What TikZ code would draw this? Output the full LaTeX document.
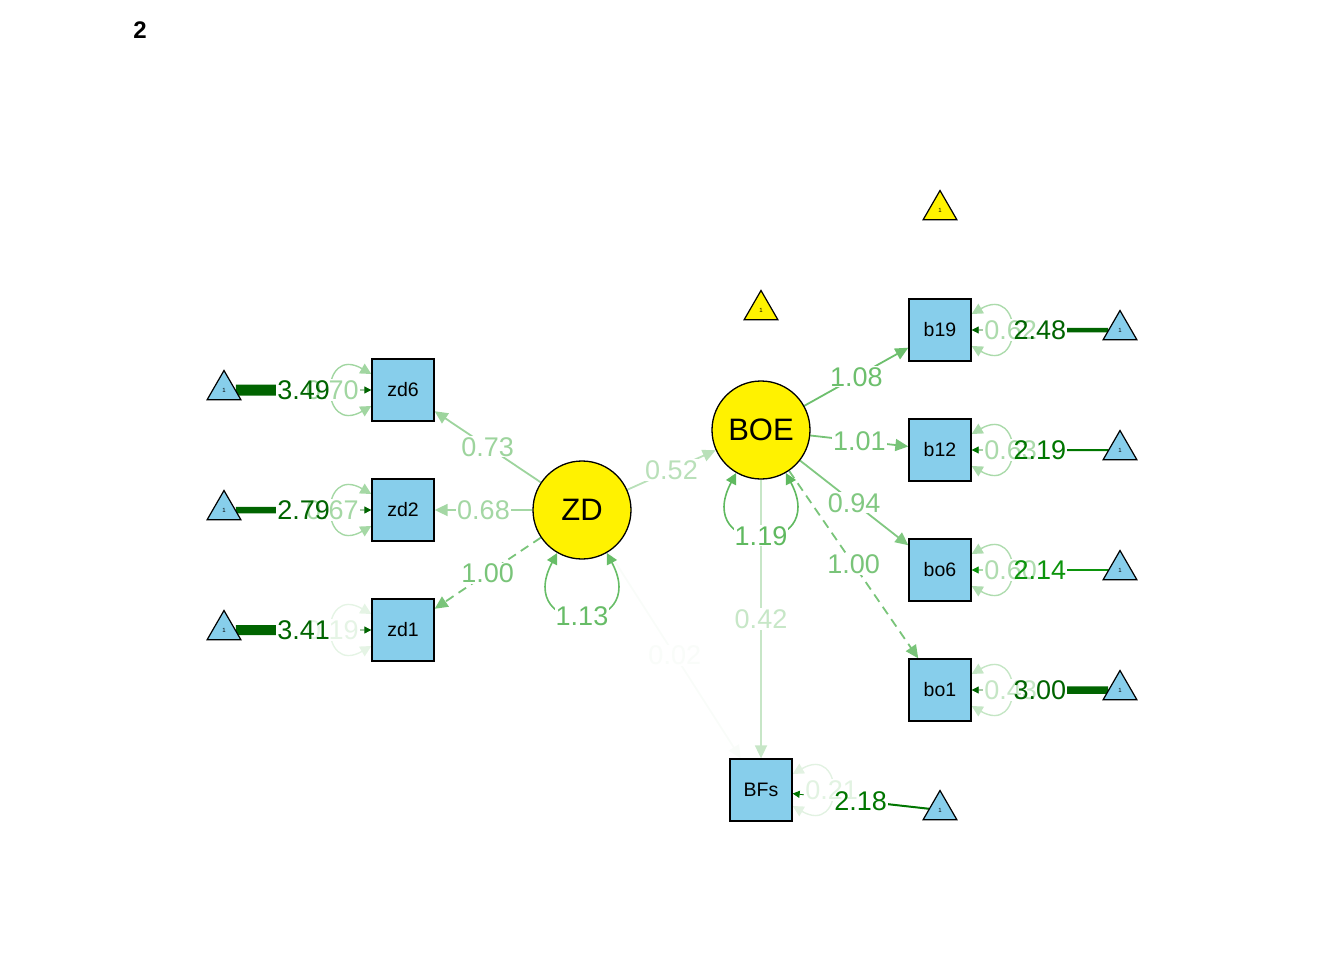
\documentclass[tikz,border=0pt]{standalone}
\usepackage{fontspec}
\setmainfont{Liberation Sans}
\usetikzlibrary{arrows.meta,shapes.geometric,calc}
\pgfdeclarelayer{edges}
\pgfsetlayers{edges,main}
\definecolor{lg}{RGB}{95,185,95}
\definecolor{skyb}{RGB}{135,206,235}
\definecolor{mg}{RGB}{0,100,0}
\definecolor{mgb}{RGB}{0,118,0}
\definecolor{mgc}{RGB}{12,148,12}
\begin{document}
\begin{tikzpicture}[x=1pt,y=-1pt,
  lat/.style={circle,draw=black,line width=1.3pt,fill=yellow,minimum size=98pt,inner sep=0pt,font=\fontsize{31}{31}\selectfont},
  man/.style={rectangle,draw=black,line width=1.3pt,fill=skyb,minimum width=62pt,minimum height=62pt,inner sep=0pt,font=\fontsize{19.5}{19.5}\selectfont},
  tri/.style={regular polygon,regular polygon sides=3,draw=black,line width=1.2pt,fill=skyb,minimum size=39pt,inner sep=0pt,font=\fontsize{6}{6}\selectfont},
  load/.style={line width=1.8pt,-{Triangle[length=13pt,width=12pt]}},
  dashload/.style={load,dash pattern=on 9pt off 6pt},
  resloop/.style={line width=1.4pt,{Triangle[length=11pt,width=11pt]}-{Triangle[length=11pt,width=11pt]}},
  meanbar/.style={shorten >=16pt},
  meantip/.style={line width=0.8pt,-{Triangle[length=7pt,width=7pt]}},
  lbl/.style={font=\fontsize{27}{27}\selectfont,inner sep=1pt},
]
\useasboundingbox (0,0) rectangle (1344,960);

\node[font=\bfseries\fontsize{24}{24}\selectfont] (title) at (140,30) {2};

% latent variables
\node[lat] (ZD) at (582,510) {ZD};
\node[lat] (BOE) at (761,430) {BOE};

% manifest variables
\node[man] (zd6) at (403,390) {zd6};
\node[man] (zd2) at (403,510) {zd2};
\node[man] (zd1) at (403,630) {zd1};
\node[man] (b19) at (940,330) {b19};
\node[man] (b12) at (940,450) {b12};
\node[man] (bo6) at (940,570) {bo6};
\node[man] (bo1) at (940,690) {bo1};
\node[man] (BFs) at (761,790) {BFs};

% intercept triangles
\node[tri] (tzd6) at (224,390) {1};
\node[tri] (tzd2) at (224,510) {1};
\node[tri] (tzd1) at (224,630) {1};
\node[tri] (tb19) at (1120,330) {1};
\node[tri] (tb12) at (1120,450) {1};
\node[tri] (tbo6) at (1120,570) {1};
\node[tri] (tbo1) at (1120,690) {1};
\node[tri] (tBFs) at (940,810) {1};
\node[tri,fill=yellow] (tya) at (940,210) {1};
\node[tri,fill=yellow] (tyb) at (761,310) {1};

\begin{pgfonlayer}{edges}
% loadings and regressions
\draw[load,draw=lg!61!white] (ZD) -- coordinate (m1) (zd6);
\draw[load,draw=lg!57!white] (ZD) -- coordinate (m2) (zd2);
\draw[dashload,draw=lg!84!white] (ZD) -- coordinate (m3) (zd1);
\draw[load,draw=lg!44!white] (ZD) -- coordinate (m4) (BOE);
\draw[load,draw=lg!4!white] (ZD) -- coordinate (m5) (BFs);
\draw[load,draw=lg!91!white] (BOE) -- coordinate (m6) (b19);
\draw[load,draw=lg!85!white] (BOE) -- coordinate (m7) (b12);
\draw[load,draw=lg!79!white] (BOE) -- coordinate (m8) (bo6);
\draw[dashload,draw=lg!84!white] (BOE) -- coordinate (m9) (bo1);
\draw[load,draw=lg!35!white] (BOE) -- coordinate (m10) (BFs);

% latent variances
\draw[resloop,line width=1.6pt,draw=lg!95!white] (ZD.-120) .. controls +(-118:95pt) and +(-62:95pt) .. coordinate (v1) (ZD.-60);
\draw[resloop,line width=1.6pt,draw=lg] (BOE.-120) .. controls +(-118:95pt) and +(-62:95pt) .. coordinate (v2) (BOE.-60);

% residual variances
\draw[resloop,draw=lg!59!white] ([yshift=16pt]zd6.west) .. controls +(150:60pt) and +(-150:60pt) .. coordinate (r1) ([yshift=-16pt]zd6.west);
\draw[resloop,draw=lg!56!white] ([yshift=16pt]zd2.west) .. controls +(150:60pt) and +(-150:60pt) .. coordinate (r2) ([yshift=-16pt]zd2.west);
\draw[resloop,draw=lg!16!white] ([yshift=16pt]zd1.west) .. controls +(150:60pt) and +(-150:60pt) .. coordinate (r3) ([yshift=-16pt]zd1.west);
\draw[resloop,draw=lg!52!white] ([yshift=16pt]b19.east) .. controls +(30:60pt) and +(-30:60pt) .. coordinate (r4) ([yshift=-16pt]b19.east);
\draw[resloop,draw=lg!53!white] ([yshift=16pt]b12.east) .. controls +(30:60pt) and +(-30:60pt) .. coordinate (r5) ([yshift=-16pt]b12.east);
\draw[resloop,draw=lg!50!white] ([yshift=16pt]bo6.east) .. controls +(30:60pt) and +(-30:60pt) .. coordinate (r6) ([yshift=-16pt]bo6.east);
\draw[resloop,draw=lg!36!white] ([yshift=16pt]bo1.east) .. controls +(30:60pt) and +(-30:60pt) .. coordinate (r7) ([yshift=-16pt]bo1.east);
\draw[resloop,draw=lg!18!white] ([yshift=16pt]BFs.east) .. controls +(30:60pt) and +(-30:60pt) .. coordinate (r8) ([yshift=-16pt]BFs.east);

% means
\draw[meanbar,draw=mg,line width=11pt] (tzd6) -- (zd6);
\draw[meantip,draw=mg] (tzd6) -- coordinate (n1) (zd6);
\draw[meanbar,draw=mg,line width=6.5pt] (tzd2) -- (zd2);
\draw[meantip,draw=mg] (tzd2) -- coordinate (n2) (zd2);
\draw[meanbar,draw=mg,line width=10pt] (tzd1) -- (zd1);
\draw[meantip,draw=mg] (tzd1) -- coordinate (n3) (zd1);
\draw[meanbar,draw=mg,line width=4.5pt] (tb19) -- (b19);
\draw[meantip,draw=mg] (tb19) -- coordinate (n4) (b19);
\draw[meanbar,draw=mgb,line width=2pt] (tb12) -- (b12);
\draw[meantip,draw=mgb] (tb12) -- coordinate (n5) (b12);
\draw[meanbar,draw=mgc,line width=1.6pt] (tbo6) -- (bo6);
\draw[meantip,draw=mgc] (tbo6) -- coordinate (n6) (bo6);
\draw[meanbar,draw=mg,line width=7.5pt] (tbo1) -- (bo1);
\draw[meantip,draw=mg] (tbo1) -- coordinate (n7) (bo1);
\draw[meanbar,draw=mgb,line width=2pt] (tBFs) -- (BFs);
\draw[meantip,draw=mgb] (tBFs) -- coordinate (n8) (BFs);
\end{pgfonlayer}

\def\labellist{m1/0.73/lg!61!white, m2/0.68/lg!57!white, m3/1.00/lg!84!white,
  m4/0.52/lg!44!white, m5/0.02/lg!4!white, m6/1.08/lg!91!white, m7/1.01/lg!85!white,
  m8/0.94/lg!79!white, m9/1.00/lg!84!white, m10/0.42/lg!35!white,
  v1/1.13/lg!95!white, v2/1.19/lg,
  r1/0.70/lg!59!white, r2/0.67/lg!56!white, r3/0.19/lg!16!white, r4/0.62/lg!52!white,
  r5/0.63/lg!53!white, r6/0.60/lg!50!white, r7/0.43/lg!36!white, r8/0.21/lg!18!white,
  n1/3.49/mg, n2/2.79/mg, n3/3.41/mg, n4/2.48/mg, n5/2.19/mgb, n6/2.14/mgc,
  n7/3.00/mg, n8/2.18/mgb}
\foreach \c/\t/\col in \labellist
  \node[lbl,fill=white,text opacity=0] (bg\c) at (\c) {\t};
\foreach \c/\t/\col in \labellist
  \node[lbl,text=\col] (tx\c) at (\c) {\t};
\end{tikzpicture}
\end{document}
